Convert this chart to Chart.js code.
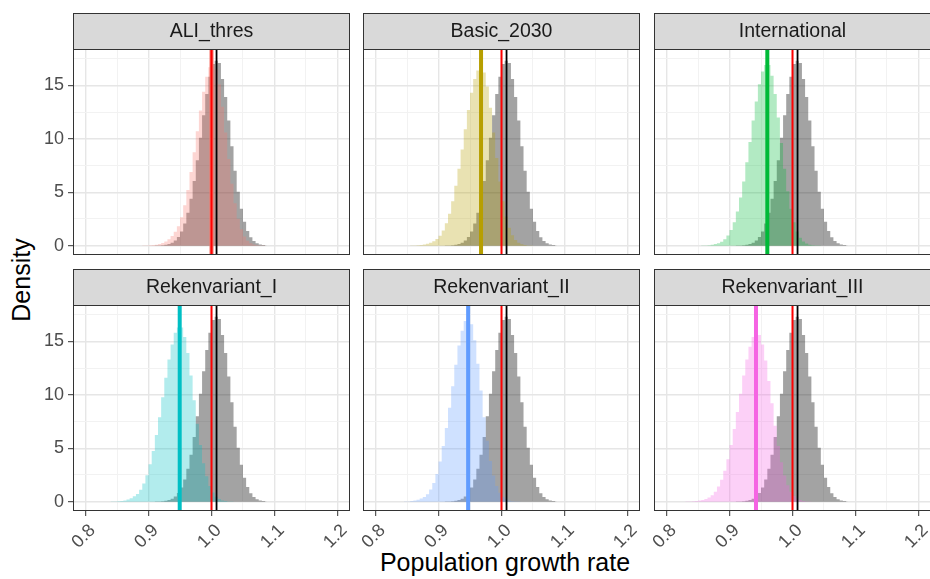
<!DOCTYPE html>
<html>
<head>
<meta charset="utf-8">
<script src="https://cdn.jsdelivr.net/npm/chart.js@4.4.1/dist/chart.umd.min.js"></script>
<style>
  body { margin: 0; background: #fff; }
  #wrap { position: relative; width: 930px; height: 579px; overflow: hidden; background: #fff;
          font-family: "Liberation Sans", Arial, Helvetica, sans-serif; }
  canvas { position: absolute; }
  .axis-title { position: absolute; font-size: 25px; line-height: 25px; color: #000; white-space: nowrap; }
  #xtitle { left: 505px; top: 550px; transform: translateX(-50%); }
  #ytitle { left: 21px; top: 280px; transform: translate(-50%, -50%) rotate(-90deg); }
</style>
</head>
<body>
<div id="wrap">
  <div class="axis-title" id="ytitle">Density</div>
  <div class="axis-title" id="xtitle">Population growth rate</div>
</div>
<script>
// histogram bin centres (bin width 0.005)
const growthBins = [
  0.8125, 0.8175, 0.8225, 0.8275, 0.8325, 0.8375, 0.8425, 0.8475, 0.8525, 0.8575,
  0.8625, 0.8675, 0.8725, 0.8775, 0.8825, 0.8875, 0.8925, 0.8975, 0.9025, 0.9075,
  0.9125, 0.9175, 0.9225, 0.9275, 0.9325, 0.9375, 0.9425, 0.9475, 0.9525, 0.9575,
  0.9625, 0.9675, 0.9725, 0.9775, 0.9825, 0.9875, 0.9925, 0.9975, 1.0025, 1.0075,
  1.0125, 1.0175, 1.0225, 1.0275, 1.0325, 1.0375, 1.0425, 1.0475, 1.0525, 1.0575,
  1.0625, 1.0675, 1.0725, 1.0775, 1.0825, 1.0875
];

// grey reference distribution, same in every panel
const baselineDensity = [
  0, 0, 0, 0, 0, 0, 0, 0, 0, 0,
  0, 0, 0, 0, 0, 0, 0, 0, 0, 0,
  0.01, 0.02, 0.04, 0.08, 0.15, 0.27, 0.49, 0.82, 1.33, 2.07,
  3.08, 4.4, 6.06, 8.0, 10.1, 12.2, 14.2, 15.8, 17.0, 17.3,
  17.1, 15.6, 13.9, 11.7, 9.3, 7.0, 5.05, 3.46, 2.24, 1.38,
  0.8, 0.45, 0.24, 0.12, 0.06, 0.03
];

const aliThres = [
  0, 0, 0, 0, 0, 0, 0, 0, 0, 0,
  0, 0, 0, 0, 0, 0, 0.01, 0.02, 0.04, 0.06,
  0.1, 0.15, 0.25, 0.4, 0.6, 0.9, 1.3, 1.82, 2.67, 3.79,
  5.2, 6.89, 8.74, 10.7, 12.65, 14.4, 15.8, 16.7, 17.0, 16.5,
  15.1, 13.0, 10.6, 8.1, 5.8, 3.96, 2.53, 1.53, 0.87, 0.47,
  0.23, 0.11, 0.05, 0.02, 0.01, 0
];

const basic2030 = [
  0, 0, 0, 0, 0, 0, 0, 0, 0, 0.01,
  0.02, 0.04, 0.07, 0.11, 0.18, 0.28, 0.42, 0.62, 0.92, 1.42,
  2.1, 3.0, 4.16, 5.6, 7.2, 9.0, 10.9, 12.7, 14.3, 15.6,
  16.4, 16.7, 16.2, 14.9, 12.9, 10.6, 8.2, 6.0, 4.16, 2.72,
  1.69, 0.98, 0.54, 0.28, 0.14, 0.06, 0.03, 0.01, 0, 0,
  0, 0, 0, 0, 0, 0
];

const international = [
  0, 0, 0, 0, 0, 0, 0, 0, 0, 0.01,
  0.03, 0.05, 0.09, 0.15, 0.24, 0.38, 0.6, 0.95, 1.47, 2.2,
  3.2, 4.5, 6.0, 7.8, 9.7, 11.7, 13.5, 15.1, 16.3, 16.9,
  16.9, 15.9, 14.2, 12.0, 9.6, 7.2, 5.1, 3.45, 2.2, 1.32,
  0.75, 0.4, 0.2, 0.1, 0.04, 0.02, 0.01, 0, 0, 0,
  0, 0, 0, 0, 0, 0
];

const rekenvariantI = [
  0, 0, 0, 0, 0, 0, 0.01, 0.02, 0.04, 0.07,
  0.12, 0.2, 0.32, 0.5, 0.72, 1.12, 1.7, 2.48, 3.5, 4.75,
  6.25, 7.9, 9.76, 11.6, 13.3, 14.7, 15.8, 16.3, 16.3, 15.4,
  13.9, 11.8, 9.5, 7.3, 5.3, 3.6, 2.37, 1.46, 0.85, 0.47,
  0.25, 0.12, 0.06, 0.03, 0.01, 0, 0, 0, 0, 0,
  0, 0, 0, 0, 0, 0
];

const rekenvariantII = [
  0, 0, 0, 0, 0, 0, 0, 0.01, 0.03, 0.06,
  0.11, 0.18, 0.29, 0.45, 0.7, 1.13, 1.75, 2.6, 3.75, 5.2,
  6.9, 8.8, 10.8, 12.8, 14.6, 16.0, 16.9, 17.2, 16.6, 15.1,
  12.9, 10.4, 7.9, 5.7, 3.8, 2.44, 1.47, 0.83, 0.44, 0.22,
  0.1, 0.05, 0.02, 0.01, 0, 0, 0, 0, 0, 0,
  0, 0, 0, 0, 0, 0
];

const rekenvariantIII = [
  0, 0, 0, 0, 0.01, 0.02, 0.04, 0.07, 0.11, 0.17,
  0.26, 0.4, 0.61, 0.94, 1.42, 2.06, 2.9, 3.98, 5.3, 6.8,
  8.4, 10.1, 11.8, 13.3, 14.5, 15.4, 15.8, 15.6, 14.7, 13.2,
  11.3, 9.2, 7.1, 5.2, 3.7, 2.44, 1.55, 0.94, 0.54, 0.3,
  0.15, 0.07, 0.03, 0.01, 0, 0, 0, 0, 0, 0,
  0, 0, 0, 0, 0, 0
];

const scenarioNames = ["ALI_thres", "Basic_2030", "International",
                       "Rekenvariant_I", "Rekenvariant_II", "Rekenvariant_III"];
const scenarioDensity = [aliThres, basic2030, international,
                         rekenvariantI, rekenvariantII, rekenvariantIII];
const scenarioMeans = [1.0, 0.9675, 0.96, 0.9495, 0.947, 0.942];
const baselineMean = 1.008;
const thresholdRate = 1.0;

// ggplot default hue palette for 6 groups
const scenarioColors = ["#F8766D", "#B79F00", "#00BA38", "#00BFC4", "#619CFF", "#F564E3"];

const xMin = 0.78, xMax = 1.22;
const yMin = -0.87, yMax = 18.4;

const plotLeft = [73, 363, 654];
const stripTop = [13, 269];
const plotW = 277, plotH = 206, stripH = 36;
const yAxisW = 45, xAxisH = 60;

const tickFont = { family: '"Liberation Sans", Arial, sans-serif', size: 18 };

function hexAlpha(hex, a) {
  const n = parseInt(hex.slice(1), 16);
  return `rgba(${(n >> 16) & 255}, ${(n >> 8) & 255}, ${n & 255}, ${a})`;
}

const isMajorX = v => Math.abs(v * 10 - Math.round(v * 10)) < 1e-6;
const isMajorY = v => Math.abs(v / 5 - Math.round(v / 5)) < 1e-6;

// keep every panel the same size: no label-driven padding
function fixAxis(s, size) {
  if (s.isHorizontal()) s.height = size; else s.width = size;
  s.paddingLeft = s.paddingRight = s.paddingTop = s.paddingBottom = 0;
}

// strip on top and border round the panel, like theme_bw
const panelFrame = {
  id: "panelFrame",
  afterDraw(chart, args, opts) {
    const { ctx, chartArea: a } = chart;
    const w = a.right - a.left;
    const top = a.top - stripH;
    ctx.save();
    ctx.fillStyle = "#D9D9D9";
    ctx.fillRect(a.left, top, w, stripH);
    ctx.strokeStyle = "#333333";
    ctx.lineWidth = 1;
    ctx.strokeRect(a.left + 0.5, top + 0.5, w - 1, stripH);
    ctx.strokeRect(a.left + 0.5, a.top + 0.5, w - 1, a.bottom - a.top - 1);
    ctx.fillStyle = "#1A1A1A";
    ctx.font = '19.5px "Liberation Sans", Arial, sans-serif';
    ctx.textAlign = "center";
    ctx.textBaseline = "middle";
    ctx.fillText(opts.label, a.left + w / 2, top + stripH / 2 + 1);
    ctx.restore();
  }
};

const toPoints = arr => growthBins.map((x, k) => ({ x: x, y: arr[k] }));
const vline = v => [{ x: v, y: yMin }, { x: v, y: yMax }];

function makePanel(i) {
  const col = i % 3, row = Math.floor(i / 3);
  const showY = col === 0, showX = row === 1;
  const color = scenarioColors[i];

  const canvas = document.createElement("canvas");
  const leftW = showY ? yAxisW : 12;
  const width = 1 + leftW + plotW + 1;
  const height = stripH + plotH + (showX ? xAxisH : 1);
  canvas.width = width;
  canvas.height = height;
  canvas.style.left = (plotLeft[col] - leftW - 1) + "px";
  canvas.style.top = stripTop[row] + "px";
  document.getElementById("wrap").appendChild(canvas);

  const lineOpts = { pointRadius: 0, fill: false, tension: 0 };

  new Chart(canvas.getContext("2d"), {
    type: "line",
    data: {
      datasets: [
        {
          data: toPoints(baselineDensity), stepped: "middle", fill: "origin",
          backgroundColor: "rgba(0, 0, 0, 0.36)", borderColor: "rgba(0,0,0,0)",
          borderWidth: 0, pointRadius: 0, order: 5
        },
        {
          data: toPoints(scenarioDensity[i]), stepped: "middle", fill: "origin",
          backgroundColor: hexAlpha(color, 0.3), borderColor: "rgba(0,0,0,0)",
          borderWidth: 0, pointRadius: 0, order: 4
        },
        { ...lineOpts, data: vline(scenarioMeans[i]), borderColor: color, borderWidth: 4, order: 3 },
        { ...lineOpts, data: vline(thresholdRate), borderColor: "#FF0000", borderWidth: 2, order: 2 },
        { ...lineOpts, data: vline(baselineMean), borderColor: "#000000", borderWidth: 1.8, order: 1 }
      ]
    },
    options: {
      responsive: false,
      animation: false,
      devicePixelRatio: 1,
      events: [],
      layout: {
        autoPadding: false,
        padding: { top: stripH, right: 1, left: 1, bottom: showX ? 0 : 1 }
      },
      plugins: {
        legend: { display: false },
        tooltip: { enabled: false },
        panelFrame: { label: scenarioNames[i] }
      },
      scales: {
        x: {
          type: "linear", min: xMin, max: xMax,
          border: { display: false },
          grid: {
            color: c => isMajorX(c.tick.value) ? "#E6E6E6" : "#F2F2F2",
            lineWidth: c => isMajorX(c.tick.value) ? 1.4 : 1,
            drawTicks: showX, tickLength: 5, tickWidth: 1,
            tickColor: c => isMajorX(c.tick.value) ? "#333333" : "rgba(0,0,0,0)"
          },
          ticks: {
            display: showX, stepSize: 0.05, includeBounds: false, autoSkip: false,
            minRotation: 45, maxRotation: 45, padding: 4, labelOffset: 7,
            color: "#4D4D4D", font: tickFont,
            callback: v => isMajorX(v) ? v.toFixed(1) : ""
          },
          afterFit: s => fixAxis(s, showX ? xAxisH : 0)
        },
        y: {
          type: "linear", min: yMin, max: yMax,
          border: { display: false },
          grid: {
            color: c => isMajorY(c.tick.value) ? "#E6E6E6" : "#F2F2F2",
            lineWidth: c => isMajorY(c.tick.value) ? 1.4 : 1,
            drawTicks: showY, tickLength: 5, tickWidth: 1,
            tickColor: c => isMajorY(c.tick.value) ? "#333333" : "rgba(0,0,0,0)"
          },
          ticks: {
            display: showY, stepSize: 2.5, includeBounds: false, autoSkip: false,
            padding: 4, color: "#4D4D4D", font: tickFont,
            callback: v => isMajorY(v) ? String(v) : ""
          },
          afterFit: s => fixAxis(s, leftW)
        }
      }
    },
    plugins: [panelFrame]
  });
}

for (let i = 0; i < 6; i++) makePanel(i);
</script>
</body>
</html>
